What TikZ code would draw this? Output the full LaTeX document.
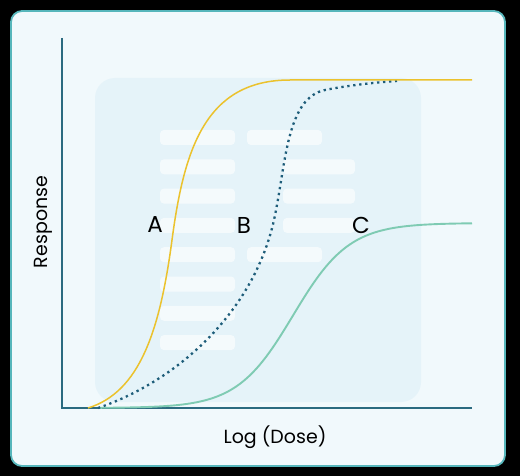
\documentclass[tikz,border=0pt]{standalone}
\usepackage{fontspec}
\setmainfont{Poppins}
\usepackage{xcolor}
\definecolor{framefill}{HTML}{F1F9FC}
\definecolor{frameline}{HTML}{56B6BB}
\definecolor{panelfill}{HTML}{E5F3F9}
\definecolor{axiscol}{HTML}{2B6B80}
\definecolor{curveA}{HTML}{EBC22D}
\definecolor{curveB}{HTML}{1E5D7A}
\definecolor{curveC}{HTML}{7FCBB3}

\begin{document}
\begin{tikzpicture}[x=1pt,y=-1pt]
\tikzstyle{every node}+=[inner sep=0pt]
\tikzstyle{bar}=[fill=white,fill opacity=0.6,rounded corners=4pt]
\tikzstyle{letter}=[font=\fontsize{23}{23}\selectfont]
\useasboundingbox (0,0) rectangle (520,476);
\fill [black] (0,0) rectangle (520,476);
\draw [frameline,fill=framefill,line width=1.8pt,rounded corners=11pt] (11,11) rectangle (505,466);
\fill [panelfill,rounded corners=20pt] (95,78) rectangle (421,402);
\foreach \i in {0,...,7}
  \fill [bar] (160,130+29.3*\i) rectangle (235,145+29.3*\i);
\foreach \i in {0,4}
  \fill [bar] (247,130+29.3*\i) rectangle (322,145+29.3*\i);
\foreach \i in {1,2,3}
  \fill [bar] (283,130+29.3*\i) rectangle (355,145+29.3*\i);
\draw [axiscol,line width=2pt] (62,38) -- (62,408) -- (472,408);
\draw [curveC,line width=1.9pt] plot [domain=100:472,samples=120] (\x,{408-185/(1+exp(-(\x-293)/28))});
\draw [curveB,line width=2.3pt,dash pattern=on 2.3pt off 3.7pt] (98,408) .. controls (180,380) and (254,310) .. (274,220) .. controls (286,165) and (286,98) .. (325,90) .. controls (350,85) and (380,82) .. (397,81);
\draw [curveA,line width=1.5pt] (88,408) .. controls (140,392) and (160,330) .. (172,240) .. controls (184,150) and (205,80) .. (290,80) -- (472,80);
\node [letter] (labelA) at (155,225) {A};
\node [letter] (labelB) at (244,225) {B};
\node [letter] (labelC) at (361,225) {C};
\node [font=\fontsize{19}{19}\selectfont] (xlabel) at (275,437) {Log (Dose)};
\node [font=\fontsize{19}{19}\selectfont,rotate=90] (ylabel) at (43,222) {Response};
\end{tikzpicture}
\end{document}
